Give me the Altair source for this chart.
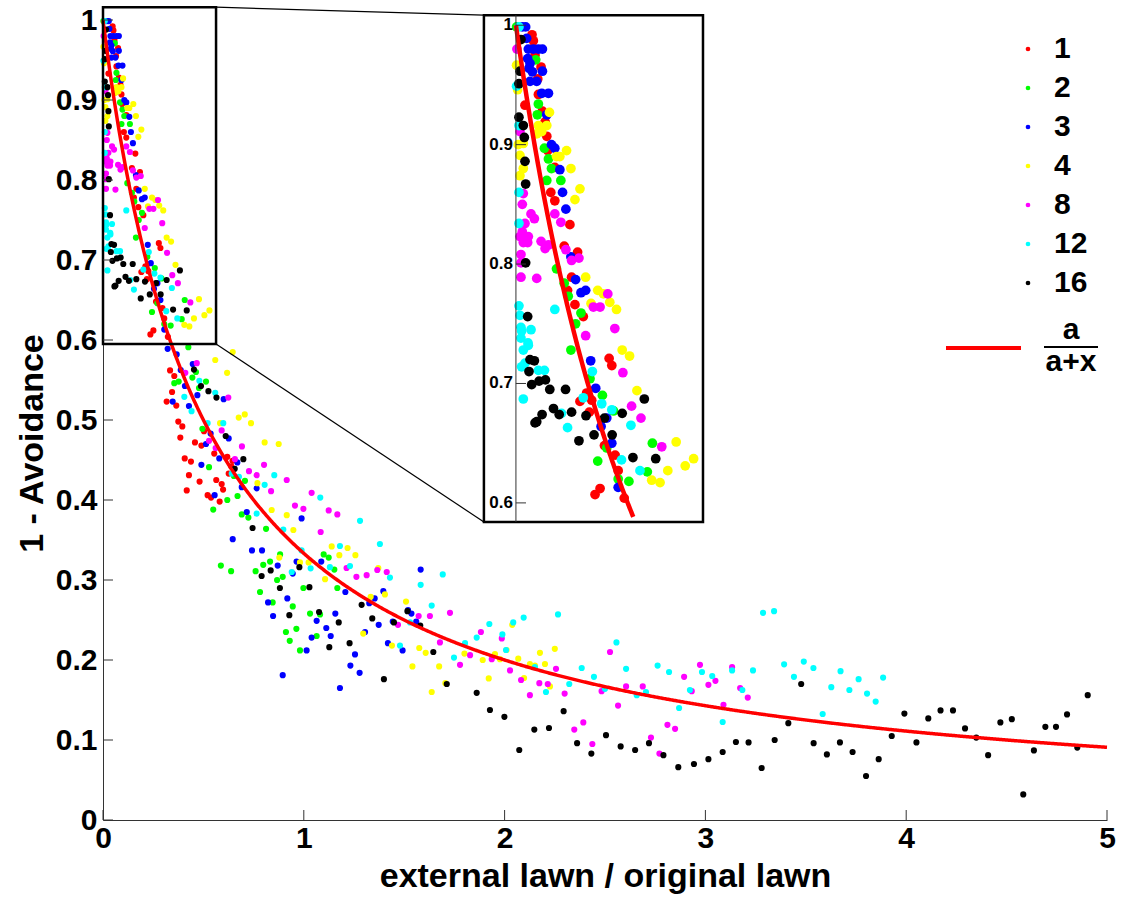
import altair as alt
import pandas as pd

FONT = "Liberation Sans"

# Series labels and their marker colours
GROUPS = ["1", "2", "3", "4", "8", "12", "16"]
COLORS = ["#ff0000", "#00ff00", "#0000ff", "#ffff00", "#ff00ff", "#00ffff", "#000000"]

# (external/original lawn ratio, 1 - avoidance) per series
S1 = [(.048, .992), (.052, .987), (.057, .975), (.075, .965), (.065, .955), (.067, .942), (.027, .933),
      (.079, .928), (.087, .919), (.092, .907), (.095, .895), (.116, .881), (.104, .860), (.116, .853),
      (.161, .833), (.144, .815), (.184, .810), (.166, .789), (.154, .778), (.176, .766), (.201, .756),
      (.278, .721), (.286, .715), (.211, .692), (.191, .685), (.226, .686), (.219, .676), (.264, .648),
      (.296, .640), (.305, .627), (.251, .612), (.236, .607), (.323, .604),
      (.334, .562), (.355, .555), (.344, .535), (.317, .523), (.365, .518), (.375, .498), (.395, .492),
      (.385, .478), (.458, .472), (.490, .468), (.407, .452), (.438, .448), (.428, .431), (.481, .423),
      (.417, .412), (.521, .406), (.538, .403), (.581, .398), (.564, .425), (.591, .420), (.598, .413),
      (.626, .433), (.639, .442), (.554, .458), (.503, .486), (.619, .454), (.645, .449)]
S2 = [(.002, .9986), (.059, .971), (.067, .934), (.064, .925), (.085, .897), (.097, .888), (.106, .880),
      (.092, .870), (.134, .870), (.121, .796), (.144, .784), (.156, .773), (.194, .759), (.178, .750),
      (.164, .728), (.221, .704), (.258, .690), (.291, .677), (.407, .650), (.271, .646), (.244, .635),
      (.392, .626), (.305, .620), (.337, .618),
      (.425, .591), (.463, .560), (.445, .553), (.355, .546), (.377, .548), (.513, .548), (.478, .540),
      (.495, .489), (.528, .441), (.652, .430), (.707, .424), (.670, .405), (.619, .400), (.549, .388),
      (.691, .382), (.724, .378), (.587, .318), (.638, .311), (.812, .364), (.882, .332), (.832, .323),
      (.798, .319), (.760, .311), (.867, .300), (.895, .304), (.998, .290), (1.099, .332), (1.124, .328),
      (1.152, .313), (1.167, .290), (.782, .285), (.845, .272), (.945, .267), (1.031, .258), (1.081, .257),
      (.911, .235), (.963, .239), (.930, .224), (.981, .212), (1.064, .230)]
S3 = [(.019, .9986), (.029, .9986), (.032, .989), (.037, .980), (.052, .980), (.067, .980), (.079, .980),
      (.035, .972), (.042, .968), (.039, .964), (.049, .961), (.079, .9615), (.042, .953), (.062, .953),
      (.077, .943), (.097, .943), (.092, .925), (.106, .900), (.116, .897), (.131, .879), (.139, .860),
      (.149, .846), (.164, .806), (.178, .787), (.194, .776), (.208, .778), (.223, .719), (.238, .696),
      (.271, .671), (.254, .664), (.286, .650), (.305, .613),
      (.322, .589), (.367, .582), (.447, .570), (.387, .5625), (.408, .5425), (.347, .523), (.470, .531),
      (.428, .5175), (.601, .526), (.536, .483), (.626, .477), (.513, .470), (.579, .452), (.669, .447),
      (.490, .444), (.691, .416), (.556, .406), (.765, .4146), (.716, .385), (.646, .351), (.989, .377),
      (.742, .337), (.792, .337), (.870, .318), (.964, .323), (1.087, .323), (.945, .308), (1.207, .285),
      (.918, .277), (.822, .272), (.847, .255), (1.064, .249), (1.112, .240), (1.134, .230), (1.039, .228),
      (1.014, .212), (1.157, .258), (1.305, .235), (1.326, .271), (1.353, .277), (1.396, .286), (1.373, .244),
      (1.443, .248), (1.519, .2625), (1.536, .258), (1.560, .248), (1.419, .221), (1.492, .212), (1.255, .207),
      (1.232, .193), (1.278, .184), (.895, .181), (1.180, .165), (1.582, .313)]
S4 = [(.002, .9665), (.005, .946), (.100, .927), (.067, .916), (.092, .916), (.062, .909), (.077, .911),
      (.007, .900), (.022, .901), (.151, .895), (.131, .890), (.121, .890), (.012, .891), (.022, .880),
      (.012, .874), (.164, .880), (.191, .863), (.176, .854), (.208, .789), (.244, .778), (.261, .775),
      (.224, .767), (.280, .768), (.300, .762), (.317, .728), (.339, .723), (.361, .694), (.478, .651),
      (.530, .637), (.505, .631), (.453, .627), (.405, .619), (.430, .617),
      (.646, .585), (.559, .575), (.618, .559), (.676, .503), (.706, .507), (.737, .496), (.583, .496),
      (.805, .472), (.875, .470), (.769, .421), (.840, .3875), (.915, .381), (.948, .3625), (1.139, .342),
      (1.177, .331), (1.218, .340), (1.257, .331), (.878, .328), (.981, .322), (1.024, .322), (1.106, .301),
      (1.371, .315), (1.333, .279), (1.404, .282), (1.509, .273), (1.296, .233), (1.439, .218), (1.575, .215),
      (1.607, .209), (1.541, .192), (1.674, .192), (1.800, .208), (1.891, .200), (1.921, .177), (1.637, .160),
      (1.705, .171), (1.977, .201), (1.952, .2075), (2.010, .2125), (2.038, .244), (2.068, .2017),
      (2.097, .1775), (2.126, .195), (2.151, .193), (2.176, .209), (2.201, .195), (2.226, .167), (2.250, .214)]
S8 = [(.003, .980), (.012, .911), (.022, .859), (.019, .850), (.116, .842), (.045, .842), (.055, .838),
      (.027, .834), (.134, .835), (.019, .827), (.012, .823), (.037, .823), (.022, .818), (.035, .818),
      (.075, .819), (.087, .813), (.097, .816), (.149, .812), (.015, .808), (.166, .803), (.188, .805),
      (.015, .801), (.015, .789), (.062, .788), (.274, .775), (.231, .764), (.251, .764), (.295, .746),
      (.208, .740), (.319, .709), (.345, .681), (.373, .671), (.435, .647),
      (.467, .571), (.410, .559), (.624, .528), (.591, .487), (.528, .474), (.561, .465), (.692, .467),
      (.657, .451), (.802, .444), (.727, .436), (.765, .431), (.915, .425), (.837, .411), (1.039, .409),
      (.956, .393), (.998, .389), (1.124, .387), (1.167, .382), (1.084, .360), (1.213, .315), (1.262, .304),
      (1.313, .306), (1.366, .3125), (1.413, .310), (1.572, .255), (1.628, .255), (1.728, .259), (1.469, .244),
      (1.678, .222), (1.828, .206), (1.778, .194), (1.936, .201), (2.027, .187), (1.882, .235), (1.986, .227),
      (2.082, .175), (2.256, .189), (2.173, .171), (2.215, .170), (2.126, .156), (2.299, .158), (2.347, .113),
      (2.392, .122), (2.437, .095), (2.525, .210), (2.483, .161), (2.565, .143), (2.605, .167), (2.688, .167),
      (2.729, .103), (2.771, .083), (2.811, .119), (2.849, .114), (2.894, .179), (2.932, .161), (2.973, .194),
      (3.015, .169), (3.050, .174), (3.090, .144), (3.133, .191), (3.173, .165), (3.211, .153)]
S12 = [(.009, .9986), (.002, .949), (.009, .916), (.009, .860), (.009, .834), (.009, .765), (.012, .757),
       (.116, .762), (.015, .747), (.017, .744), (.045, .745), (.015, .738), (.036, .734), (.022, .728),
       (.037, .732), (.017, .714), (.027, .717), (.067, .711), (.085, .711), (.228, .710), (.022, .687),
       (.201, .688), (.256, .683), (.286, .678), (.136, .675), (.343, .665), (.154, .663), (.315, .636),
       (.370, .627),
       (.480, .549), (.559, .534), (.405, .529), (.441, .511), (.521, .496), (.599, .496), (.641, .433),
       (.677, .429), (.853, .431), (.805, .419), (.765, .383), (1.082, .403), (1.280, .374), (.898, .363),
       (.989, .337), (1.180, .3425), (1.130, .316), (1.230, .3175), (1.034, .3146), (1.379, .345), (1.429, .303),
       (1.582, .294), (1.692, .307), (1.637, .268), (1.529, .247), (1.479, .218), (1.748, .203), (1.803, .221),
       (1.861, .228), (1.924, .245), (1.989, .232), (2.007, .2125), (.940, .310), (2.043, .247), (2.095, .253),
       (2.266, .257), (2.151, .191), (2.206, .160), (2.322, .170), (2.384, .190), (2.445, .179), (2.500, .164),
       (2.557, .222), (2.605, .189), (2.658, .156), (2.704, .160), (2.762, .193), (2.819, .185), (2.869, .140),
       (2.923, .1625), (2.983, .185), (3.034, .180), (3.086, .1225), (3.133, .187), (3.184, .1625),
       (3.237, .187), (3.287, .259), (3.342, .261), (3.392, .1946), (3.441, .179), (3.490, .198), (3.538, .190),
       (3.584, .1325), (3.627, .166), (3.673, .186), (3.717, .1625), (3.763, .176), (3.805, .158),
       (3.848, .148), (3.885, .178)]
S16 = [(.015, .988), (.012, .9615), (.009, .951), (.009, .923), (.022, .916), (.025, .906), (.027, .886),
       (.029, .867), (.029, .801), (.035, .756), (.042, .720), (.055, .719), (.039, .710), (.047, .699),
       (.069, .702), (.088, .703), (.101, .695), (.148, .695), (.383, .687), (.112, .679), (.129, .674),
       (.166, .676), (.317, .675), (.078, .674), (.062, .668), (.057, .667), (.209, .673), (.264, .671),
       (.287, .657), (.233, .657), (.188, .652), (.349, .638), (.417, .637),
       (.453, .563), (.488, .5425), (.525, .536), (.565, .528), (.611, .480), (.699, .451), (.656, .439),
       (.745, .365), (.790, .305), (.835, .312), (.978, .316), (.881, .290), (1.028, .291), (.928, .256),
       (1.076, .260), (1.174, .247), (1.127, .216), (1.228, .221), (1.288, .269), (1.341, .252), (1.449, .247),
       (1.516, .261), (1.580, .243), (1.645, .210), (1.712, .170), (1.399, .176), (1.861, .159), (1.927, .1375),
       (1.999, .129), (2.073, .0875), (2.148, .113), (2.221, .115), (2.294, .136), (2.361, .096), (2.432, .083),
       (2.505, .106), (2.578, .092), (2.650, .0875), (2.719, .096), (2.791, .081), (2.865, .066), (2.943, .070),
       (3.015, .076), (3.086, .085), (3.152, .0975), (3.215, .097), (3.280, .065), (3.345, .100), (3.413, .121),
       (3.477, .170), (3.539, .096), (3.605, .082), (3.670, .097), (3.733, .085), (3.800, .055), (3.863, .076),
       (3.928, .105), (3.991, .133), (4.051, .097), (4.110, .127), (4.171, .137), (4.233, .137), (4.293, .1145),
       (4.349, .103), (4.408, .081), (4.469, .122), (4.526, .126), (4.583, .032), (4.636, .087), (4.693, .1165),
       (4.746, .1165), (4.801, .132), (4.852, .0905), (4.904, .156)]

SERIES = [S1, S2, S3, S4, S8, S12, S16]

# Fitted model a / (a + x)
A = 0.5

# Axis ticks
X_TICKS = [0, 1, 2, 3, 4, 5]
Y_TICKS = [0, .1, .2, .3, .4, .5, .6, .7, .8, .9, 1.0]
INSET_TICKS = [0.6, 0.7, 0.8, 0.9, 1.0]
INSET_LABELS = ["0.6", "0.7", "0.8", "0.9", "1"]

# Zoomed region shown in the inset and the inset frame (main-axis units)
ZOOM_X = [0.0, 0.563]
ZOOM_Y = [0.595, 1.016]
FRAME_X = [1.897, 2.988]
FRAME_Y = [0.3725, 1.006]
# Inset data extent (its own units)
INSET_X = [-0.0955, 0.558]
INSET_Y = [0.584, 1.0084]

W, H = 1004, 800
X_MAX, Y_MAX = 5.0, 1.0

rows = []
for g, pts in zip(GROUPS, SERIES):
    for x, y in pts:
        rows.append({"x": x, "y": y, "group": g})
df = pd.DataFrame(rows)


def px_x(v):
    return v / X_MAX * W


def px_y(v):
    return (1 - v / Y_MAX) * H


color_legend = alt.Legend(
    title=None, orient="none", legendX=910, legendY=14, padding=0,
    symbolType="circle", symbolSize=22, symbolStrokeWidth=0,
    labelFont=FONT, labelFontSize=30, labelFontWeight="bold", labelColor="black",
    labelOffset=11, rowPadding=9,
)
color_main = alt.Color("group:N", scale=alt.Scale(domain=GROUPS, range=COLORS), sort=GROUPS, legend=color_legend)

xs = alt.Scale(domain=[0, X_MAX], nice=False, zero=False)
ys = alt.Scale(domain=[0, Y_MAX], nice=False, zero=False)

x_main = alt.X("x:Q", scale=xs, axis=alt.Axis(
    values=X_TICKS, format="d", title="external lawn / original lawn", labelFlush=False,
    labelPadding=3, titleBaseline="alphabetic", titleY=66))
y_main = alt.Y("y:Q", scale=ys, axis=alt.Axis(
    values=Y_TICKS, format=".1~f", title="1 - Avoidance", labelPadding=6, labelFlush=False,
    titleAngle=270, titleBaseline="alphabetic", titleAlign="center", titleX=-61, titleY=423))

points = alt.Chart(df).mark_circle(size=38, opacity=1).encode(x=x_main, y=y_main, color=color_main)

curve = (
    alt.Chart(alt.sequence(0, 5.0001, 0.005, as_="x"))
    .transform_calculate(y=f"{A} / ({A} + datum.x)")
    .mark_line(color="#ff0000", strokeWidth=3.5)
    .encode(x="x:Q", y="y:Q")
)

zoom_box = alt.Chart(pd.DataFrame({
    "x": [ZOOM_X[0]], "x2": [ZOOM_X[1]], "y": [ZOOM_Y[0]], "y2": [ZOOM_Y[1]]
})).mark_rect(fillOpacity=0, stroke="black", strokeWidth=2.5).encode(x="x:Q", x2="x2", y="y:Q", y2="y2")

connectors = alt.Chart(pd.DataFrame({
    "x": [ZOOM_X[1], ZOOM_X[1]], "x2": [FRAME_X[0], FRAME_X[0]],
    "y": [ZOOM_Y[1], ZOOM_Y[0]], "y2": [FRAME_Y[1], FRAME_Y[0]],
})).mark_rule(color="black", strokeWidth=1.2).encode(x="x:Q", x2="x2", y="y:Q", y2="y2")

x_ticks = alt.Chart(pd.DataFrame({"x": X_TICKS})).mark_rule(color="#333333", strokeWidth=1).encode(
    x="x:Q", y=alt.value(H), y2=alt.value(H - 10))
y_ticks = alt.Chart(pd.DataFrame({"y": Y_TICKS})).mark_rule(color="#333333", strokeWidth=1).encode(
    y="y:Q", x=alt.value(0), x2=alt.value(10))

one = pd.DataFrame({"k": [0]})
fit_key = alt.Chart(one).mark_rule(color="#ff0000", strokeWidth=4).encode(
    x=alt.value(843), x2=alt.value(918), y=alt.value(328))
frac_bar = alt.Chart(one).mark_rule(color="black", strokeWidth=2).encode(
    x=alt.value(941), x2=alt.value(995), y=alt.value(327))
frac_num = alt.Chart(one).mark_text(text="a", font=FONT, fontSize=30, fontWeight="bold",
                                    align="center", baseline="alphabetic", color="black").encode(
    x=alt.value(968), y=alt.value(319))
frac_den = alt.Chart(one).mark_text(text="a+x", font=FONT, fontSize=30, fontWeight="bold",
                                    align="center", baseline="alphabetic", color="black").encode(
    x=alt.value(968), y=alt.value(351))

main = alt.layer(points, curve, zoom_box, connectors, x_ticks, y_ticks,
                 fit_key, frac_bar, frac_num, frac_den)

# Inset: its own scales, placed over the frame given in main-axis units
ix = alt.Scale(domain=INSET_X, range=[px_x(FRAME_X[0]), px_x(FRAME_X[1])], nice=False, zero=False)
iy = alt.Scale(domain=INSET_Y, range=[px_y(FRAME_Y[0]), px_y(FRAME_Y[1])], nice=False, zero=False)

inset_frame = alt.Chart(pd.DataFrame({
    "x": [INSET_X[0]], "x2": [INSET_X[1]], "y": [INSET_Y[0]], "y2": [INSET_Y[1]]
})).mark_rect(fill="white", stroke="black", strokeWidth=2.5).encode(
    x=alt.X("x:Q", scale=ix, axis=None), x2="x2",
    y=alt.Y("y:Q", scale=iy, axis=None), y2="y2")

inset_axis = alt.Chart(pd.DataFrame({"x": [0.0], "y": [INSET_Y[0]], "y2": [INSET_Y[1]]})).mark_rule(
    color="#333333", strokeWidth=1).encode(
    x=alt.X("x:Q", scale=ix, axis=None), y=alt.Y("y:Q", scale=iy, axis=None), y2="y2")

inset_tick_df = pd.DataFrame({"x": [0.0] * len(INSET_TICKS), "x2": [0.03] * len(INSET_TICKS),
                              "y": INSET_TICKS, "label": INSET_LABELS})
inset_ticks = alt.Chart(inset_tick_df).mark_rule(color="#333333", strokeWidth=1).encode(
    x=alt.X("x:Q", scale=ix, axis=None), x2="x2", y=alt.Y("y:Q", scale=iy, axis=None))
inset_labels = alt.Chart(inset_tick_df).mark_text(
    font=FONT, fontSize=17, fontWeight="bold", align="right", baseline="middle", dx=-3, color="black"
).encode(x=alt.X("x:Q", scale=ix, axis=None), y=alt.Y("y:Q", scale=iy, axis=None), text="label:N")

# Only the points inside the zoomed box appear in the inset
inset_points = (
    alt.Chart(df)
    .transform_filter(f"datum.x <= {ZOOM_X[1]} && datum.y >= {ZOOM_Y[0]}")
    .mark_circle(size=95, opacity=1)
    .encode(
        x=alt.X("x:Q", scale=ix, axis=None),
        y=alt.Y("y:Q", scale=iy, axis=None),
        color=alt.Color("group:N", scale=alt.Scale(domain=GROUPS, range=COLORS), sort=GROUPS, legend=None),
    )
)

x_end = A / 0.588 - A
inset_curve = (
    alt.Chart(alt.sequence(0, x_end, 0.002, as_="x"))
    .transform_calculate(y=f"{A} / ({A} + datum.x)")
    .mark_line(color="#ff0000", strokeWidth=4.5)
    .encode(x=alt.X("x:Q", scale=ix, axis=None), y=alt.Y("y:Q", scale=iy, axis=None))
)

inset = alt.layer(inset_frame, inset_points, inset_curve, inset_axis, inset_ticks, inset_labels)

chart = (
    alt.layer(main, inset)
    .resolve_scale(x="independent", y="independent")
    .resolve_legend(color="independent")
    .properties(
        width=W, height=H,
        padding={"left": 103, "top": 20, "right": 17, "bottom": 81},
        autosize=alt.AutoSizeParams(type="none"),
        background="white",
    )
    .configure_view(stroke=None)
    .configure_axis(
        grid=False, ticks=False, domainColor="#333333", domainWidth=1,
        labelColor="black", labelFont=FONT, labelFontWeight="bold", labelFontSize=30,
        titleColor="black", titleFont=FONT, titleFontWeight="bold", titleFontSize=34,
    )
)

chart.save("out.html", embed_options={"renderer": "svg", "actions": False})
